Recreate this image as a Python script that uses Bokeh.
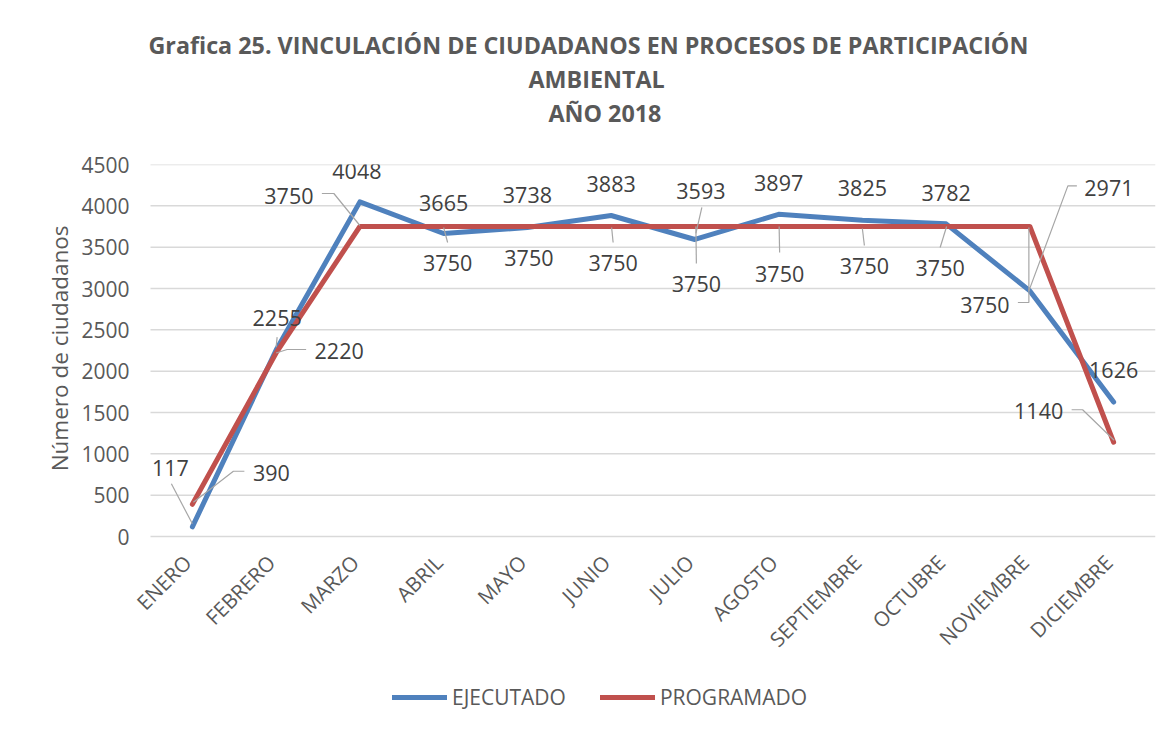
import math
from bokeh.plotting import figure
from bokeh.models import Range1d, FixedTicker, Legend, LegendItem, ColumnDataSource, Title
from bokeh.embed import file_html
from bokeh.resources import INLINE
from bokeh.core.properties import value

# ---------------- data ----------------
months = ["ENERO", "FEBRERO", "MARZO", "ABRIL", "MAYO", "JUNIO", "JULIO",
          "AGOSTO", "SEPTIEMBRE", "OCTUBRE", "NOVIEMBRE", "DICIEMBRE"]
ejecutado = [117, 2255, 4048, 3665, 3738, 3883, 3593, 3897, 3825, 3782, 2971, 1626]
programado = [390, 2220, 3750, 3750, 3750, 3750, 3750, 3750, 3750, 3750, 3750, 1140]
series_names = ["EJECUTADO", "PROGRAMADO"]
y_ticks = [0, 500, 1000, 1500, 2000, 2500, 3000, 3500, 4000, 4500]
title_lines = ["Grafica 25. VINCULACIÓN DE CIUDADANOS EN PROCESOS DE PARTICIPACIÓN",
               "AMBIENTAL", "AÑO 2018"]
y_title = "Número de ciudadanos"

# ---------------- style ----------------
BLUE = "#4F81BD"
RED = "#C0504D"
GRID = "#d9d9d9"
TXT = "#595959"
LBL = "#404040"
LEAD = "#a6a6a6"
FONT = "Open Sans"

PLOT_W = 1005      # width of the category area (12 slots)
PAD_L = 20         # extra frame room on the left for the first month label
FW = PLOT_W + PAD_L
FH_DATA = 372      # pixels spanned by 0..4500
FH = 560           # frame height (extra room below for month labels and legend)
YMAX = 4500
CAT_L, CAT_R = -0.5, 11.5
PX_X = PLOT_W / (CAT_R - CAT_L)
PX_Y = FH_DATA / YMAX
XMIN = CAT_L - PAD_L / PX_X
YMIN = -(FH - FH_DATA) / PX_Y

# label offsets in screen pixels (dx right, dy down)
ej_off = [(-22, -59), (1, -32), (-3, -31), (0, -31), (0, -32), (0, -32), (6, -48),
          (0, -31), (0, -32), (0, -31), (79, -103), (0, -32)]
pr_off = [(79, -31), (63, -2), (-71, -31), (4, 36), (1.5, 31), (2, 36), (1.5, 57),
          (1, 47), (2, 39), (-6, 41), (-45, 78), (-75, -31)]
ej_lead = {0: [(-21, -43), (0, -3)], 1: [(1, -13), (0, -3)], 6: [(7, -32), (1, -6)],
           10: [(47, -105), (38, -105), (-1, 0)]}
pr_lead = {0: [(52, -33), (41, -33), (1, -2)], 1: [(30, -3.5), (11, -3.5), (0, 0)],
           2: [(-38, -33), (-26, -33), (0, -1)], 3: [(0, 1), (4, 16)], 5: [(0.5, 1), (2, 16)],
           6: [(1, 0), (1.5, 37)], 7: [(0.5, 0), (1, 26)], 8: [(0, 2), (2, 19)],
           9: [(0.5, 0), (-6, 21)], 10: [(-12, 76), (-1, 76), (-1, 1)],
           11: [(-42, -32.5), (-31, -32.5), (0.5, -2)]}

xs = list(range(len(months)))

p = figure(frame_width=FW, frame_height=FH, x_range=Range1d(XMIN, CAT_R),
           y_range=Range1d(YMIN, YMAX), output_backend="svg", toolbar_location=None,
           x_axis_location=None,
           min_border_left=150 - PAD_L, min_border_right=16, min_border_top=164,
           min_border_bottom=8, background_fill_color="white",
           border_fill_color="white")
p.outline_line_color = None

# y axis
p.yaxis.ticker = FixedTicker(ticks=y_ticks)
p.yaxis.axis_line_color = None
p.yaxis.major_tick_line_color = None
p.yaxis.minor_tick_line_color = None
p.yaxis.major_tick_out = 0
p.yaxis.major_tick_in = 0
p.yaxis.minor_tick_out = 0
p.yaxis.major_label_text_font = FONT
p.yaxis.major_label_text_font_size = "21px"
p.yaxis.major_label_text_color = TXT
p.yaxis.major_label_standoff = 21 - PAD_L

p.xgrid.grid_line_color = None
p.ygrid.grid_line_color = None

# horizontal gridlines spanning only the category area
p.segment(x0=[CAT_L] * len(y_ticks), x1=[CAT_R] * len(y_ticks), y0=y_ticks, y1=y_ticks,
          line_color=GRID, line_width=1.5)

# y axis title (placed on the left, aligned with the 0..4500 span)
p.add_layout(Title(text=y_title, align="right", offset=61, standoff=8,
                   text_font=FONT, text_font_style="normal", text_font_size="22.5px",
                   text_color=TXT), "left")

# month labels along the zero line
p.text(x=xs, y=[0] * len(xs), text=months, angle=math.pi / 4, x_offset=-5, y_offset=22,
       text_align="right", text_baseline="middle", text_font=value(FONT),
       text_font_size="20.5px", text_color=TXT)

# series
r1 = p.line(xs, ejecutado, line_color=BLUE, line_width=5, line_cap="round", line_join="round")
r2 = p.line(xs, programado, line_color=RED, line_width=5, line_cap="round", line_join="round")

# leader lines
lx, ly = [], []
for vals, leads in ((ejecutado, ej_lead), (programado, pr_lead)):
    for i, pts in leads.items():
        lx.append([i + dx / PX_X for dx, dy in pts])
        ly.append([vals[i] - dy / PX_Y for dx, dy in pts])
p.multi_line(lx, ly, line_color=LEAD, line_width=1.2)

# data labels
for vals, offs in ((ejecutado, ej_off), (programado, pr_off)):
    src = ColumnDataSource(dict(x=xs, y=vals, t=[str(v) for v in vals],
                                dx=[o[0] for o in offs], dy=[o[1] for o in offs]))
    p.text(x="x", y="y", text="t", x_offset="dx", y_offset="dy", source=src,
           text_align="center", text_baseline="middle", text_font=value(FONT),
           text_font_size="21.5px", text_color=LBL)

# spacer between plot and title block
p.add_layout(Title(text=" ", standoff=6, text_font=FONT, text_font_size="21px"), "above")
# title (added nearest-first); offsets measured from the frame's left edge
title_offsets = [-2 + PAD_L, 378 + PAD_L, 398 + PAD_L]
for k in (2, 1, 0):
    p.add_layout(Title(text=title_lines[k], align="left", offset=title_offsets[k],
                       standoff=0, text_font=FONT,
                       text_font_style="bold", text_font_size="23.3px",
                       text_color=TXT), "above")

# legend
legend = Legend(items=[LegendItem(label=series_names[0], renderers=[r1]),
                       LegendItem(label=series_names[1], renderers=[r2])],
                orientation="horizontal", location=(242 + PAD_L, 13),
                glyph_width=55, glyph_height=20, label_standoff=5, spacing=34,
                padding=0, margin=0, border_line_color=None,
                background_fill_alpha=0, label_text_font=FONT,
                label_text_font_size="21px", label_text_color=TXT)
p.add_layout(legend)

open("out.html", "w").write(file_html(p, INLINE))
